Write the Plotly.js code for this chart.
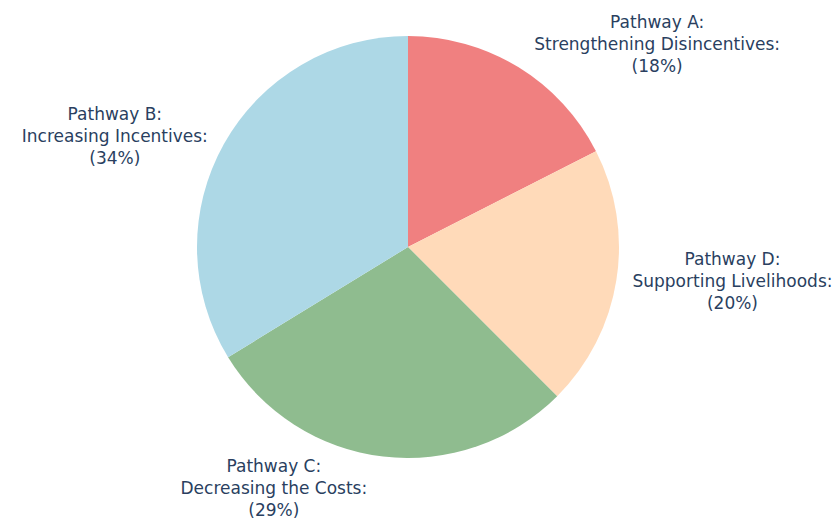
<!DOCTYPE html>
<html>
<head>
<meta charset="utf-8">
<script src="https://cdn.plot.ly/plotly-3.0.1.min.js"></script>
<style>html,body{margin:0;padding:0;background:#fff;}</style>
</head>
<body>
<div id="chart" style="width:834px;height:521px;"></div>
<script>
const labels = [
  "Pathway A:<br>Strengthening Disincentives",
  "Pathway D:<br>Supporting Livelihoods",
  "Pathway C:<br>Decreasing the Costs",
  "Pathway B:<br>Increasing Incentives"
];
const values = [14, 16, 23, 27];
const colors = ["#F08080", "#FFDAB9", "#8FBC8F", "#ADD8E6"];

const trace = {
  type: "pie",
  labels: labels,
  values: values,
  sort: false,
  direction: "clockwise",
  rotation: 0,
  marker: {colors: colors, line: {width: 0}},
  texttemplate: "%{label}:<br>(%{percent:.0%})",
  textposition: "outside",
  textfont: {family: "DejaVu Sans, Verdana, sans-serif", size: 17, color: "#2a3f5f"},
  hoverinfo: "label+percent",
  showlegend: false
};

const layout = {
  width: 834,
  height: 521,
  margin: {l: 100, r: 118, t: 36, b: 63, autoexpand: false},
  paper_bgcolor: "#ffffff",
  font: {family: "DejaVu Sans, Verdana, sans-serif", color: "#2a3f5f"},
  showlegend: false
};

Plotly.newPlot("chart", [trace], layout, {displayModeBar: false, staticPlot: true});
</script>
</body>
</html>
